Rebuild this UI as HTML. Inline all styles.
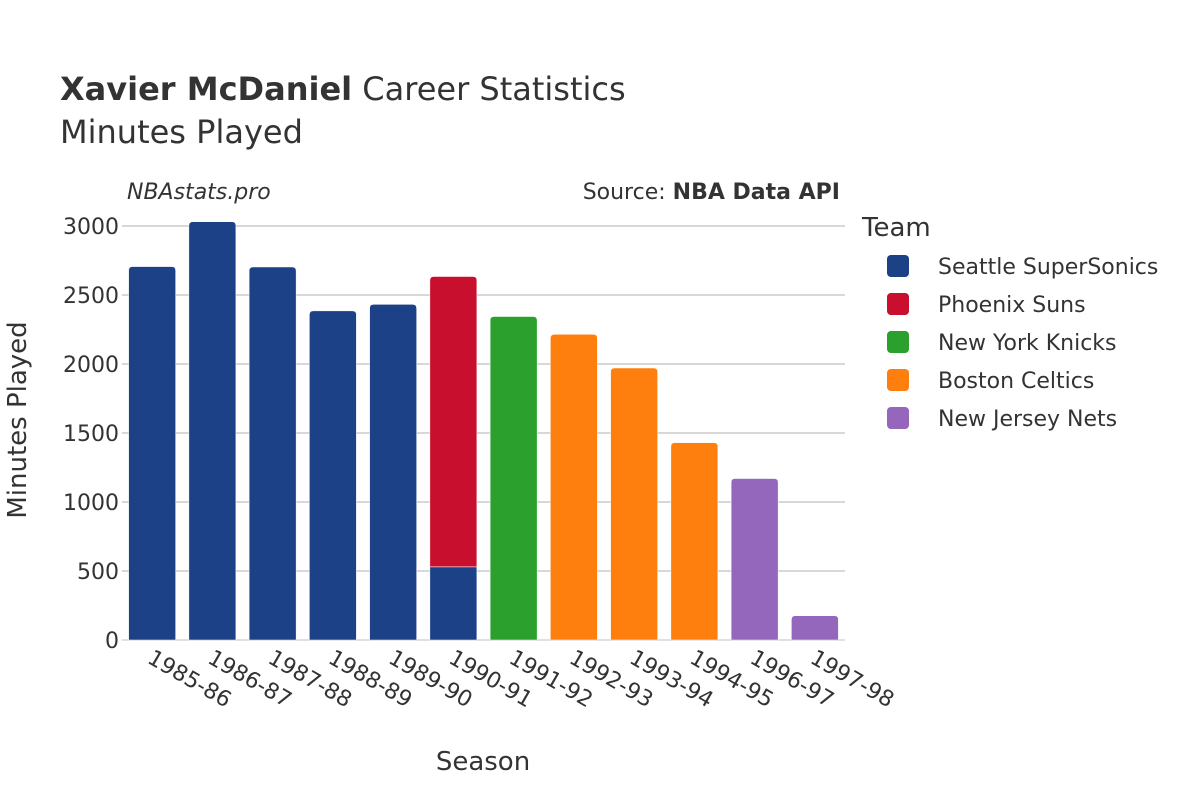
<!DOCTYPE html>
<html><head><meta charset="utf-8"><style>
body{margin:0;background:#fff;font-family:"Liberation Sans","DejaVu Sans",sans-serif;}
svg text{font-family:"DejaVu Sans","Liberation Sans",sans-serif;fill:#333;}
</style></head><body>
<svg id="chart" width="1200" height="800" xmlns="http://www.w3.org/2000/svg">
<text x="60" y="100" font-size="32"><tspan font-weight="bold">Xavier McDaniel</tspan> Career Statistics</text>
<text x="60" y="143" font-size="32">Minutes Played</text>
<text x="127" y="199" font-size="22" font-style="italic">NBAstats.pro</text>
<text x="840" y="199" font-size="22" text-anchor="end">Source: <tspan font-weight="bold">NBA Data API</tspan></text>
<g id="grid"></g><g id="bars"></g><g id="xticks"></g><g id="yticks"></g>
<text x="483" y="770" font-size="26" text-anchor="middle">Season</text>
<text transform="translate(26,420) rotate(-90)" font-size="26" text-anchor="middle">Minutes Played</text>
<g id="legend"></g>
</svg>
<script>
const seasons=["1985-86","1986-87","1987-88","1988-89","1989-90","1990-91","1991-92","1992-93","1993-94","1994-95","1996-97","1997-98"];
const teams=["Seattle SuperSonics","Phoenix Suns","New York Knicks","Boston Celtics","New Jersey Nets"];
const colors=["#1c4187","#c8102e","#2ca02c","#ff7f0e","#9467bd"];
const seattle=[2706,3031,2703,2385,2432,530,0,0,0,0,0,0];
const phoenix=[0,0,0,0,0,2104,0,0,0,0,0,0];
const knicks=[0,0,0,0,0,0,2344,0,0,0,0,0];
const celtics=[0,0,0,0,0,0,0,2215,1971,1430,0,0];
const nets=[0,0,0,0,0,0,0,0,0,0,1170,176];
const yTicks=[0,500,1000,1500,2000,2500,3000];
const series=[seattle,phoenix,knicks,celtics,nets];
const NS="http://www.w3.org/2000/svg";
const x0=122,x1=845,y0=640,y1=226,ymax=3000;
const bw=(x1-x0)/seasons.length;
const X=i=>x0+bw*(i+0.5);
const Y=v=>y0-(v/ymax)*(y0-y1);
function mk(t,a,p){const e=document.createElementNS(NS,t);for(const k in a)e.setAttribute(k,a[k]);p.appendChild(e);return e;}
const grid=document.getElementById('grid'),yt=document.getElementById('yticks');
yTicks.forEach(v=>{
 const l=mk('line',{x1:x0,x2:x1,y1:Y(v),y2:Y(v),stroke:v===0?'#e0e0e0':'#b0b0b0','stroke-width':v===0?2:1},grid);
 
 
 const t=mk('text',{x:x0-3,y:Y(v)+8,'font-size':22,'text-anchor':'end'},yt);t.textContent=v;
 
 
});
const bars=document.getElementById('bars');
seasons.forEach((s,i)=>{
 let base=0;const w=47;
 const top=series.reduce((a,sr)=>a+sr[i],0);
 series.forEach((sr,k)=>{
  const v=sr[i];if(!v)return;
  const ya=Y(base+v),yb=Y(base),xl=X(i)-w/2,r=(base+v===top)?4:0;
  const d=`M${xl},${yb}V${ya+r}Q${xl},${ya} ${xl+r},${ya}H${xl+w-r}Q${xl+w},${ya} ${xl+w},${ya+r}V${yb}Z`;
  const p=mk('path',{d:d,fill:colors[k],stroke:'#fff','stroke-width':0.5},bars);
  
  
  base+=v;
 });
 const t=mk('text',{transform:`translate(${X(i)-6},${y0+22}) rotate(30)`,'font-size':22},document.getElementById('xticks'));
 t.textContent=s;
 
 
});
const lg=document.getElementById('legend');
const lt=mk('text',{x:862,y:236,'font-size':26},lg);lt.textContent='Team';


teams.forEach((n,k)=>{
 const g=mk('g',{},lg);
 
 
 mk('rect',{x:887,y:255+k*38,width:22,height:22,rx:4,fill:colors[k]},g);
 const t=mk('text',{x:938,y:274+k*38,'font-size':22},g);t.textContent=n;
});
</script>
</body></html>
